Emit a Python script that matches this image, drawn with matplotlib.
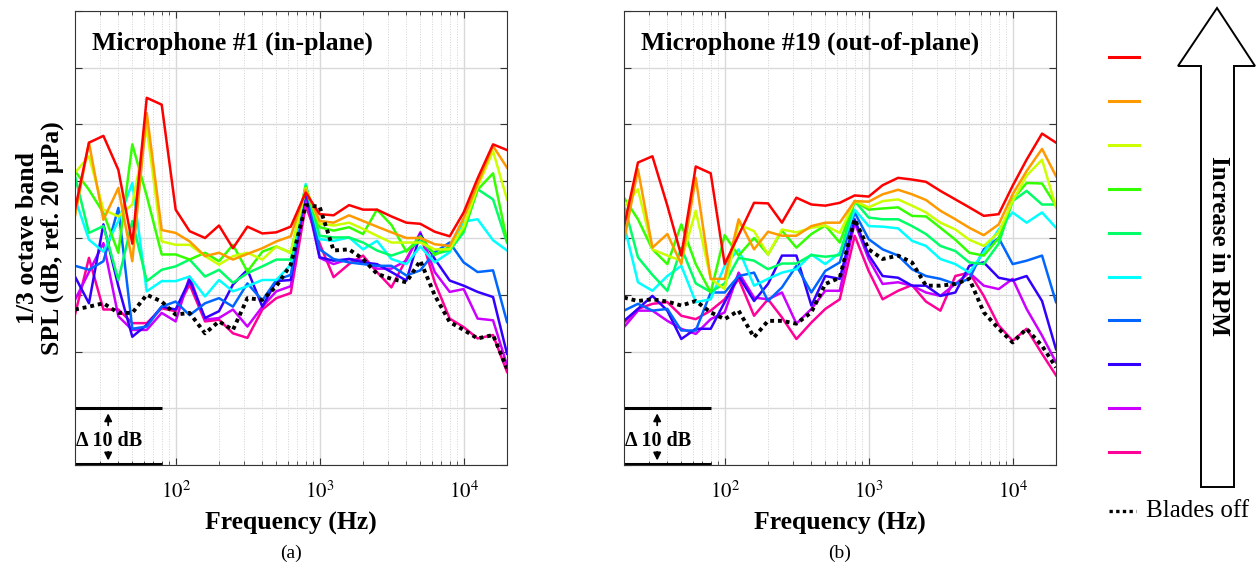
import matplotlib
matplotlib.use("Agg")
import matplotlib.pyplot as plt
from matplotlib.lines import Line2D
from matplotlib.patches import Polygon
from matplotlib.ticker import FixedLocator, LogLocator, NullFormatter

plt.rcParams['font.family'] = 'serif'
plt.rcParams['font.serif'] = ['Liberation Serif', 'DejaVu Serif']
plt.rcParams['mathtext.fontset'] = 'stix'

# 1/3 octave band centre frequencies (Hz)
freqs = [20, 25, 31.5, 40, 50, 63, 80, 100, 125, 160, 200, 250, 315, 400, 500, 630,
         800, 1000, 1250, 1600, 2000, 2500, 3150, 4000, 5000, 6300, 8000, 10000,
         12500, 16000, 20000]

# RPM cases, highest first
colors = ['#ff0000', '#ff9900', '#ccff00', '#33ff00', '#00ff66',
          '#00ffff', '#0066ff', '#3300ff', '#cc00ff', '#ff0099']

# Microphone #1 (in-plane), SPL in dB
mic1_red = [65, 76.8, 78, 72, 59, 84.7, 83.5, 65, 61.2, 60, 62.2, 58.2, 62, 60.8, 61, 62,
            68, 64.2, 64, 65.8, 65, 65, 63.8, 62.7, 62.5, 61.1, 60.3, 64.5, 70.5, 76.5, 75.5]
mic1_orange = [63.9, 76.8, 63.2, 68.8, 55.9, 82, 61.4, 60.9, 59.4, 56.8, 57.4, 56.2, 57.2, 58.2, 59.4, 60.3,
               68.5, 63, 62.7, 64, 63, 62, 61, 60, 60, 58.9, 58.6, 63.5, 69.5, 76.2, 72.4]
mic1_yellow = [71.5, 74.4, 65, 63.8, 65.9, 79.4, 59.4, 58.8, 58.8, 56.8, 55.3, 56.8, 57.4, 56.2, 58.5, 57.4,
               68.8, 62.5, 62.2, 62.7, 61.6, 60.4, 59.2, 59.2, 59.2, 58, 58, 62, 69, 75.3, 66.8]
mic1_green = [71.8, 68.5, 64.4, 57.4, 76.5, 67.4, 57.1, 57.1, 56.2, 57.4, 55.9, 58.8, 54.1, 57.6, 58.5, 57.4,
              69, 61.9, 61.3, 61.9, 60.7, 65, 62.3, 57.6, 60.3, 57, 58.5, 61.4, 68.5, 71.4, 59.5]
mic1_spring = [70.9, 60.9, 62.1, 52.6, 63, 52.4, 54.4, 55, 56.2, 53.2, 54.4, 52.1, 53.8, 55, 56.2, 56.2,
               69.2, 60.4, 60.1, 60.1, 59.2, 57.8, 56.9, 57.8, 59.5, 57.2, 57.8, 61, 68.6, 66.8, 59.2]
mic1_cyan = [67, 59.7, 57.6, 63, 69.7, 50.6, 52.4, 52.4, 53.2, 49.7, 52.6, 50.6, 51.5, 52.6, 52.6, 55.3,
             69.5, 59.8, 59.5, 60.1, 58, 59.5, 56.3, 55.4, 58.5, 55.7, 57.5, 62.9, 63.3, 59.6, 57.8]
mic1_blue = [55.1, 54.4, 55.9, 65.3, 44, 44.4, 47.9, 48.8, 46.4, 48.5, 49.4, 47.9, 52, 49, 52.6, 53.5,
             69, 58, 56.3, 55.7, 55.4, 55.1, 55.1, 53.4, 54.3, 57.5, 59.2, 55.7, 54, 54.3, 45.2]
mic1_indigo = [53.2, 48.5, 62.4, 51.5, 42.6, 44.7, 47.9, 47.4, 52.6, 45.9, 47.1, 51.8, 54.4, 47.9, 52.4, 52.6,
               68.5, 56.6, 56, 56.3, 55.7, 55.4, 54, 52.5, 60.7, 56.3, 52.5, 51.6, 50.5, 49.6, 39.6]
mic1_purple = [49.1, 54, 59.1, 46.2, 43.8, 43.8, 46.8, 45.3, 53.2, 45.6, 45.9, 47.4, 44.4, 47.9, 50.6, 51.5,
               67.5, 56.5, 55.4, 56.3, 56, 54.6, 54.6, 56, 61, 54, 50.5, 51, 45.8, 45.5, 37.6]
mic1_pink = [46.5, 56.5, 47.4, 47.4, 45, 45, 47.6, 47.1, 51.8, 45.3, 45.6, 43.2, 42.4, 47.4, 49.4, 50.3,
             65.7, 59, 53.1, 55.4, 56.9, 54, 51.3, 56.3, 60.7, 52.2, 45.8, 44.3, 42.3, 42.9, 36.4]
mic1_off = [47.4, 47.9, 48.5, 46.8, 46.8, 50, 48.8, 46.5, 46.8, 43.2, 45.3, 43.8, 49.4, 49.1, 51.5, 55.3,
            65.8, 65.5, 57.8, 58, 56.3, 53.7, 52.8, 52.2, 56, 49.9, 45.2, 43.8, 42.3, 42.9, 37]

# Microphone #19 (out-of-plane), SPL in dB
mic19_red = [62, 73.3, 74.4, 65.7, 56.9, 72.6, 71.4, 55.4, 60.5, 66.2, 66.1, 62.7, 67.1, 65.9, 65.7, 66.2,
             67.5, 67.3, 69.3, 70.6, 70.3, 69.9, 68.3, 66.8, 65.4, 63.9, 64.2, 69.2, 73.8, 78.4, 76.8]
mic19_orange = [59.5, 72.1, 58.3, 60.7, 55.4, 70.6, 52.8, 52.8, 63.3, 58, 61.1, 60.4, 60.4, 62.1, 62.7, 62.7,
                66.5, 66.4, 67.7, 68.5, 67.7, 66.7, 64.8, 63.3, 61.8, 60.5, 62.4, 67.7, 71.8, 75.7, 70.9]
mic19_yellow = [65.4, 68.6, 58, 56.9, 56, 64.8, 52.8, 51, 62.4, 61.2, 57.1, 61.5, 61, 61.8, 62.2, 60.9,
                66.5, 65.4, 66.5, 66.8, 65.7, 64.5, 62.7, 61.5, 59.7, 58.6, 61, 66.5, 71, 73.8, 65.4]
mic19_green = [67.1, 63.3, 58, 55.4, 62.4, 55.4, 50.4, 60.5, 56.9, 60, 57.1, 61.3, 58.3, 60.7, 62.2, 59.2,
               66.5, 65, 65.2, 65.4, 63.9, 63.8, 61.8, 59.7, 57.4, 56.9, 60, 66.8, 69.7, 69.6, 65.7]
mic19_spring = [65.9, 56.6, 53.5, 50.7, 58.3, 52, 50.5, 52, 56.5, 56, 54.5, 55.5, 55.5, 57, 56.7, 57,
                66.5, 63.6, 63.3, 63.3, 62.1, 60.7, 58.6, 57.7, 55.7, 55.4, 59, 66.5, 68.3, 65.9, 65.9]
mic19_cyan = [62.4, 52.2, 50.7, 53.3, 55.1, 48.7, 49.2, 55.1, 58, 51.6, 52.8, 53.9, 54.5, 57.1, 55.4, 57.4,
              65, 62.1, 62, 61.7, 59.5, 58.6, 56.3, 55.4, 53.9, 57.5, 61.5, 64.5, 62.7, 64.5, 61.8]
mic19_blue = [47.2, 48.4, 47.2, 47.5, 43.7, 43.7, 50.4, 50.4, 53.3, 53.9, 48.9, 51.3, 55.1, 50.4, 54.2, 55.7,
              64.5, 59.8, 58, 56.9, 54.5, 53.3, 52.8, 51.9, 52.8, 58, 60, 55.4, 56, 56.9, 48.7]
mic19_indigo = [45.4, 47.5, 49.8, 47.2, 42.2, 44, 44, 48.7, 53.3, 48.9, 51.9, 56.9, 56.9, 48.1, 53.3, 52.8,
                63.3, 57, 53.3, 53, 51.6, 51.6, 49.8, 50.4, 55.1, 55.7, 53, 52.5, 53.3, 48.9, 40.4]
mic19_purple = [44.3, 47.2, 47.2, 45.4, 44, 43.1, 45.7, 46.9, 53.9, 49.5, 49.2, 50.4, 44.9, 47.5, 50.7, 50.7,
                62.7, 56.3, 51.9, 52.2, 51.6, 50.4, 49.8, 51.9, 53.9, 51.6, 51, 52.8, 47.5, 42.8, 38.1]
mic19_pink = [45.1, 47.5, 48.4, 48.7, 46.3, 45.7, 47.2, 49.2, 52.8, 46.3, 49.2, 46, 42.2, 45.1, 47.5, 49.2,
              60.4, 54.2, 49.2, 50.7, 51.7, 48.8, 47.2, 53.3, 53.9, 49.8, 44.6, 41.9, 44, 39.6, 35.8]
mic19_off = [49.5, 48.9, 49.2, 48.8, 48.1, 48.9, 46.9, 45.7, 47.2, 42.5, 45.4, 45.4, 44.9, 46.9, 51.9, 53,
             63.3, 58, 56.3, 56.9, 55.7, 51.6, 51.6, 51.9, 52.8, 46.9, 44, 41.6, 44, 41, 37.2]

mic1 = [mic1_red, mic1_orange, mic1_yellow, mic1_green, mic1_spring,
        mic1_cyan, mic1_blue, mic1_indigo, mic1_purple, mic1_pink]
mic19 = [mic19_red, mic19_orange, mic19_yellow, mic19_green, mic19_spring,
         mic19_cyan, mic19_blue, mic19_indigo, mic19_purple, mic19_pink]

W, H = 1256, 570
fig = plt.figure(figsize=(W / 100, H / 100), dpi=100)


def fx(px):
    return px / W


def fy(py):
    return 1 - py / H


def setup(ax, title):
    ax.set_xscale('log')
    ax.set_xlim(20, 20000)
    ax.set_ylim(20, 100)
    ax.yaxis.set_major_locator(FixedLocator(range(20, 101, 10)))
    ax.set_yticklabels([])
    ax.xaxis.set_major_locator(FixedLocator([100, 1000, 10000]))
    ax.set_xticklabels(['$10^2$', '$10^3$', '$10^4$'], fontsize=15)
    ax.xaxis.set_minor_locator(LogLocator(base=10, subs=range(2, 10), numticks=20))
    ax.xaxis.set_minor_formatter(NullFormatter())
    ax.tick_params(which='both', direction='in', top=True, right=True, color='#333333')
    ax.tick_params(which='major', length=5, pad=12)
    ax.tick_params(which='minor', length=3)
    ax.grid(True, which='major', color='#d9d9d9', lw=1.0)
    ax.grid(True, which='minor', axis='x', color='#d2d2d2', lw=0.7, ls=':')
    ax.set_axisbelow(True)
    for s in ax.spines.values():
        s.set_color('#333333')
    ax.set_xlabel('Frequency (Hz)', fontsize=18.5, fontweight='bold', labelpad=6)
    ax.text(0.04, 0.955, title, transform=ax.transAxes, fontsize=18.5,
            fontweight='bold', va='top', ha='left')
    # 10 dB scale marker
    ax.plot([20, 80], [30, 30], color='black', lw=2.2, solid_capstyle='butt')
    ax.plot([20, 80], [20.15, 20.15], color='black', lw=2.2, solid_capstyle='butt', clip_on=False)
    ax.annotate('', xy=(34, 29.6), xytext=(34, 26.5),
                arrowprops=dict(arrowstyle='-|>', color='black', lw=1.3, mutation_scale=11))
    ax.annotate('', xy=(34, 20.3), xytext=(34, 22.8),
                arrowprops=dict(arrowstyle='-|>', color='black', lw=1.3, mutation_scale=11))
    ax.text(20.3, 24.2, '\u0394 10 dB', fontsize=14.5, fontweight='bold', va='center', ha='left')


ax1 = fig.add_axes([fx(75), fy(465), fx(507 - 75), (465 - 11) / H])
ax2 = fig.add_axes([fx(624), fy(465), fx(1056 - 624), (465 - 11) / H])

for ax, data, off in [(ax1, mic1, mic1_off), (ax2, mic19, mic19_off)]:
    for vals, c in zip(data[::-1], colors[::-1]):
        ax.plot(freqs, vals, color=c, lw=1.8)
    ax.plot(freqs, off, color='black', lw=2.8, ls=(0, (1, 1)))

setup(ax1, 'Microphone #1 (in-plane)')
setup(ax2, 'Microphone #19 (out-of-plane)')

ax1.set_ylabel('1/3 octave band\nSPL (dB, ref. 20 \u03bcPa)', fontsize=18.5,
               fontweight='bold', linespacing=1.05)
ax1.yaxis.set_label_coords(-0.026, 0.5)

fig.text(fx(291), fy(553), '(a)', fontsize=14, ha='center', va='center')
fig.text(fx(840), fy(553), '(b)', fontsize=14, ha='center', va='center')

# colour key
for k, c in enumerate(colors):
    y = fy(57 + 43.9 * k)
    fig.add_artist(Line2D([fx(1109), fx(1139)], [y, y], color=c, lw=2.2))
fig.add_artist(Line2D([fx(1109), fx(1136)], [fy(511), fy(511)], color='black',
                      lw=2.4, ls=(0, (1, 1))))
fig.text(fx(1146), fy(511), 'Blades off', fontsize=18, ha='left', va='center')

# RPM arrow
pts = [(1217, 8), (1178, 66), (1201, 66), (1201, 487), (1234, 487), (1234, 66), (1255, 66)]
fig.add_artist(Polygon([(fx(x), fy(y)) for x, y in pts], closed=True,
                       facecolor='white', edgecolor='black', lw=1.4))
fig.text(fx(1218), fy(246), 'Increase in RPM', rotation=-90, fontsize=18,
         fontweight='bold', ha='center', va='center')

fig.savefig('out.png', dpi=100)
